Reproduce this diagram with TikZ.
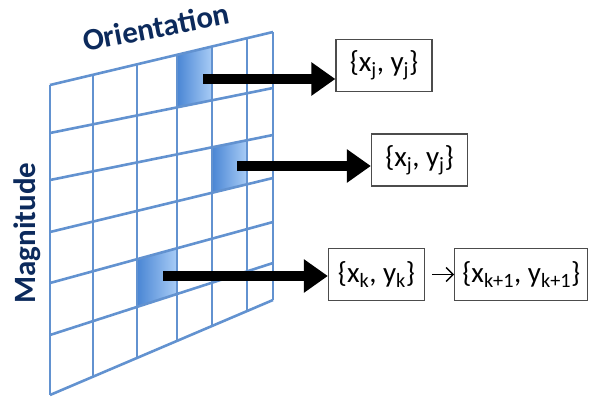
\documentclass[tikz,border=0pt]{standalone}
\usepackage{fontspec}
\setmainfont{Carlito}
\usepackage{tikz}
\usetikzlibrary{arrows.meta, positioning, calc}

\definecolor{gridblue}{RGB}{98,146,208}
\definecolor{celldark}{RGB}{74,134,212}
\definecolor{celllight}{RGB}{168,204,246}
\definecolor{labelblue}{RGB}{12,42,92}

\begin{document}
\begin{tikzpicture}[
    x=1pt, y=-1pt,
    >=Latex,
    gridline/.style={draw=gridblue, line width=2.6pt},
    cell/.style={left color=celldark, right color=celllight},
    bigarrow/.style={line width=10pt, -{Triangle[length=24pt, width=32pt]}},
    pointbox/.style={draw=black!70, line width=1.3pt, fill=white, minimum width=96pt, minimum height=52pt, inner sep=2pt, font=\fontsize{29}{31}\selectfont},
    axislabel/.style={font=\fontsize{31}{34}\selectfont\bfseries, text=labelblue}
]
\useasboundingbox (0,0) rectangle (591,399);

% Grid rows (left and right end of each line)
\foreach \i/\l/\r in {0/85/32, 1/133/88, 2/180/135, 3/232/178, 4/283/222, 5/335/263, 6/395/300}{
  \coordinate (L\i) at (50,\l);
  \coordinate (R\i) at (273,\r);
}

% Highlighted cells
\shade[cell] ($(L0)!.57!(R0)$) -- ($(L0)!.726!(R0)$) -- ($(L1)!.726!(R1)$) -- ($(L1)!.57!(R1)$) -- cycle;
\shade[cell] ($(L2)!.726!(R2)$) -- ($(L2)!.883!(R2)$) -- ($(L3)!.883!(R3)$) -- ($(L3)!.726!(R3)$) -- cycle;
\shade[cell] ($(L4)!.39!(R4)$) -- ($(L4)!.57!(R4)$) -- ($(L5)!.57!(R5)$) -- ($(L5)!.39!(R5)$) -- cycle;

% Grid lines
\foreach \i in {0,...,6} \draw[gridline] (L\i) -- (R\i);
\foreach \t in {0,.193,.39,.57,.726,.883,1} \draw[gridline] ($(L0)!\t!(R0)$) -- ($(L6)!\t!(R6)$);

% Axis labels
\node[axislabel, rotate=11] (orient) at (156,27) {Orientation};
\node[axislabel, rotate=90] (magn) at (27,233) {Magnitude};

% Point boxes
\node[pointbox] (p1) at (384,65.5) {\{x\textsubscript{j}, y\textsubscript{j}\}};
\node[pointbox] (p2) at (419.5,160) {\{x\textsubscript{j}, y\textsubscript{j}\}};
\node[pointbox] (p3) at (376.5,274.5) {\{x\textsubscript{k}, y\textsubscript{k}\}};
\node[pointbox, right=29pt of p3, minimum width=133pt] (p4) {\{x\textsubscript{k+1}, y\textsubscript{k+1}\}};

% Arrows from the cells
\coordinate (s1) at (203,79);
\coordinate (s2) at (237,166);
\coordinate (s3) at (163,276);
\draw[bigarrow] (s1) -- (s1 -| p1.west);
\draw[bigarrow] (s2) -- (s2 -| p2.west);
\draw[bigarrow] (s3) -- (s3 -| p3.west);
\draw[-{Straight Barb[length=7pt]}, line width=1.5pt, shorten <=7pt] (p3) -- (p4);

\end{tikzpicture}
\end{document}
